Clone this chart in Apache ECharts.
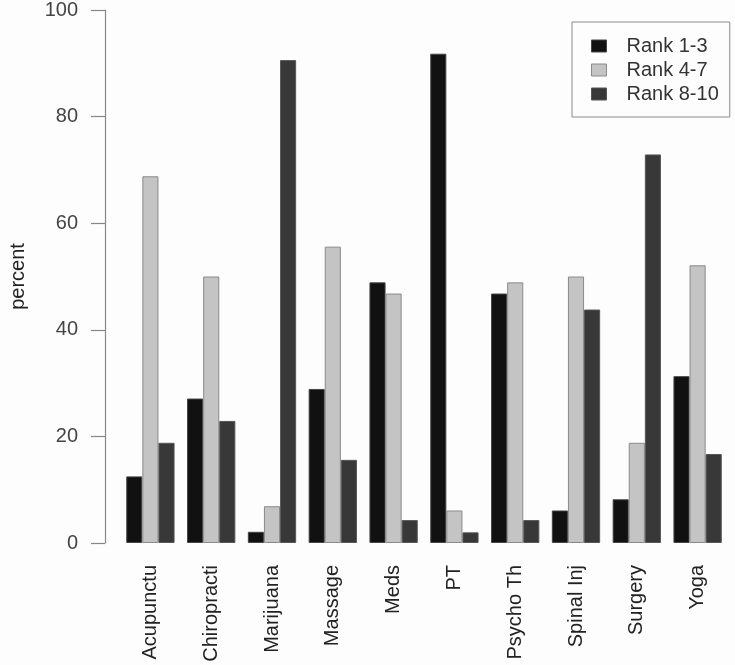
<!DOCTYPE html>
<html>
<head>
<meta charset="utf-8">
<script src="https://cdn.jsdelivr.net/npm/echarts@6/dist/echarts.min.js"></script>
<style>html,body{margin:0;padding:0;background:#fdfdfd;}#c{width:735px;height:665px;}</style>
</head>
<body>
<div id="c"></div>
<script>
const categories = ['Acupunctu','Chiropracti','Marijuana','Massage','Meds','PT','Psycho Th','Spinal Inj','Surgery','Yoga'];
const rank13 = [12.5, 27.1, 2.1, 28.9, 48.9, 91.8, 46.8, 6.1, 8.2, 31.3];
const rank47 = [68.8, 50.0, 6.9, 55.6, 46.8, 6.1, 48.9, 50.0, 18.8, 52.1];
const rank810 = [18.8, 22.9, 90.6, 15.6, 4.3, 2.0, 4.3, 43.8, 72.9, 16.7];
const seriesNames = ['Rank 1-3','Rank 4-7','Rank 8-10'];
const yTicks = {min: 0, max: 100, interval: 20};

const font = 'Liberation Sans, Arial, sans-serif';
const colors = ['#111111', '#c4c4c4', '#383838'];
const borders = ['#444444', '#8a8a8a', '#555555'];
const data = [rank13, rank47, rank810];

const chart = echarts.init(document.getElementById('c'), null, {renderer: 'canvas'});
chart.setOption({
  backgroundColor: '#fdfdfd',
  animation: false,
  textStyle: {fontFamily: font},
  grid: {left: 115, right: 7, top: 10, bottom: 122},
  legend: {
    orient: 'vertical',
    left: 572, top: 22,
    padding: [12, 11, 11, 19],
    itemWidth: 15, itemHeight: 12, itemGap: 0,
    borderColor: '#8a8a8a', borderWidth: 1,
    icon: 'rect',
    textStyle: {fontSize: 20, color: '#333', fontFamily: font, lineHeight: 24, padding: [0, 0, 0, 15]},
    data: seriesNames.map((n, i) => ({name: n, itemStyle: {color: colors[i], borderColor: borders[i], borderWidth: 1}}))
  },
  xAxis: {
    type: 'category',
    data: categories,
    axisLine: {show: false},
    axisTick: {show: false},
    axisLabel: {rotate: 90, margin: 22, fontSize: 20, color: '#222', fontFamily: font, interval: 0}
  },
  yAxis: {
    type: 'value',
    min: yTicks.min, max: yTicks.max, interval: yTicks.interval,
    offset: 15,
    name: 'percent',
    nameLocation: 'middle',
    nameRotate: 90,
    nameGap: 77,
    nameTextStyle: {fontSize: 20, color: '#222', fontFamily: font},
    axisLine: {show: true, lineStyle: {color: '#888', width: 1.2}},
    axisTick: {show: true, length: 14, lineStyle: {color: '#888', width: 1.2}},
    axisLabel: {margin: 27, fontSize: 20, color: '#444', fontFamily: font},
    splitLine: {show: false}
  },
  series: seriesNames.map((n, i) => ({
    name: n,
    type: 'bar',
    data: data[i],
    barWidth: 16.1,
    barGap: '0%',
    itemStyle: {color: colors[i], borderColor: borders[i], borderWidth: 1}
  }))
});
</script>
</body>
</html>
